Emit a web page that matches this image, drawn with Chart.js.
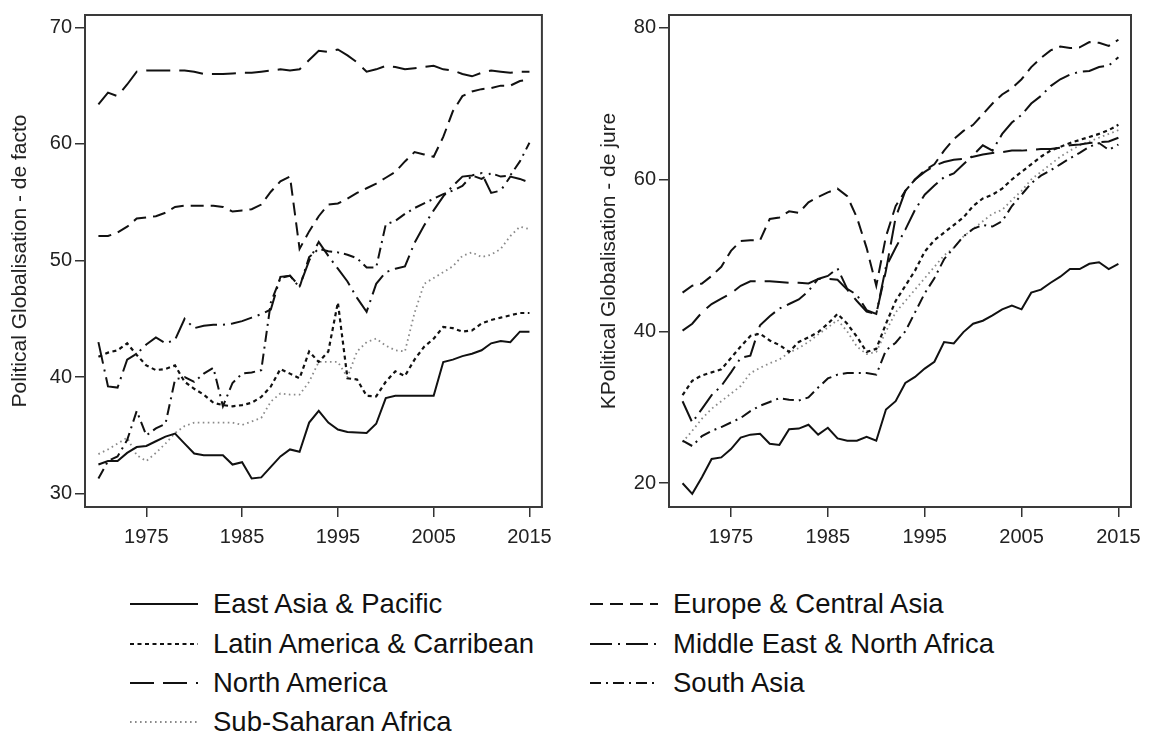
<!DOCTYPE html>
<html>
<head>
<meta charset="utf-8">
<script src="https://cdn.jsdelivr.net/npm/chart.js@4.4.1/dist/chart.umd.min.js"></script>
<style>
  html, body { margin: 0; padding: 0; background: #fff; }
  body { width: 1153px; height: 740px; position: relative; overflow: hidden; font-family: "Liberation Sans", Arial, sans-serif; }
  canvas { position: absolute; top: 0; }
  #left { left: 0; }
  #right { left: 580px; }
  .item { position: absolute; height: 40px; display: flex; align-items: center; font-size: 27.5px; color: #111; white-space: nowrap; }
  .item svg { margin-right: 15px; }
</style>
</head>
<body>
<canvas id="left" width="560" height="560"></canvas>
<canvas id="right" width="573" height="560"></canvas>
<div id="legend"></div>
<script>
// years and tick labels
const years = [1970,1971,1972,1973,1974,1975,1976,1977,1978,1979,1980,1981,1982,1983,1984,1985,1986,1987,1988,1989,1990,1991,1992,1993,1994,1995,1996,1997,1998,1999,2000,2001,2002,2003,2004,2005,2006,2007,2008,2009,2010,2011,2012,2013,2014,2015];
const xTicks = [1975, 1985, 1995, 2005, 2015];
const factoTicks = [30, 40, 50, 60, 70];
const jureTicks = [20, 40, 60, 80];

const regions = ['East Asia & Pacific', 'Europe & Central Asia', 'Latin America & Carribean', 'Middle East & North Africa', 'North America', 'South Asia', 'Sub-Saharan Africa'];

// Political globalisation - de facto
const factoEastAsia = [32.5,32.8,32.8,33.5,34.0,34.1,34.5,34.9,35.15,34.3,33.45,33.3,33.3,33.3,32.5,32.7,31.3,31.4,32.3,33.2,33.8,33.6,36.1,37.1,36.1,35.5,35.3,35.25,35.2,36.0,38.2,38.4,38.4,38.4,38.4,38.4,41.3,41.5,41.8,42.0,42.3,42.9,43.1,43.0,43.9,43.9];
const factoEurope = [52.1,52.1,52.4,52.9,53.6,53.7,53.8,54.1,54.6,54.7,54.7,54.7,54.7,54.6,54.2,54.3,54.4,54.8,55.9,56.8,57.2,51.0,52.5,53.8,54.8,54.9,55.3,55.8,56.2,56.6,57.1,57.6,58.5,59.3,59.1,58.9,60.6,62.8,64.1,64.5,64.7,64.8,65.0,65.0,65.4,65.5];
const factoLatin = [41.75,42.1,42.3,42.9,41.9,41.0,40.6,40.7,41.0,39.6,39.0,38.5,37.8,37.6,37.5,37.6,37.8,38.3,39.2,40.7,40.3,39.9,42.2,41.3,42.2,46.4,39.9,39.8,38.4,38.35,39.6,40.5,40.1,41.5,42.6,43.3,44.3,44.2,43.9,44.0,44.6,44.9,45.1,45.3,45.5,45.5];
const factoMENA = [43.0,39.2,39.1,41.5,42.0,42.8,43.4,42.9,43.2,45.0,44.2,44.4,44.5,44.5,44.6,44.8,45.1,45.4,45.8,48.6,48.7,47.8,50.0,51.6,50.4,49.3,48.2,46.8,45.6,48.0,49.0,49.3,49.5,51.5,53.0,54.3,55.5,56.4,57.2,57.3,57.5,55.8,56.0,57.2,57.0,56.7];
const factoNorthAmerica = [63.4,64.4,64.1,65.1,66.2,66.3,66.3,66.3,66.3,66.3,66.2,66.0,66.0,66.0,66.05,66.1,66.1,66.2,66.3,66.4,66.3,66.4,67.2,68.0,67.9,68.1,67.6,67.0,66.2,66.4,66.7,66.6,66.4,66.5,66.6,66.7,66.4,66.3,66.0,65.8,66.1,66.3,66.2,66.1,66.2,66.2];
const factoSouthAsia = [31.3,32.8,33.2,34.6,37.1,35.0,35.6,36.0,39.8,40.0,39.6,40.3,40.8,37.5,39.5,40.3,40.4,40.6,46.4,48.5,48.7,47.7,50.3,51.0,50.8,50.7,50.5,50.2,49.4,49.4,53.1,53.4,54.0,54.5,54.9,55.3,55.7,56.0,56.4,57.3,57.0,57.5,57.2,57.3,58.5,60.1];
const factoSSA = [33.4,33.8,34.3,34.8,33.3,32.8,33.5,34.3,35.2,35.8,36.1,36.1,36.1,36.1,36.1,35.9,36.2,36.5,37.9,38.6,38.5,38.5,39.6,41.3,41.3,41.3,40.0,42.2,43.0,43.3,42.7,42.3,42.2,45.5,48.0,48.5,49.0,49.5,50.4,50.7,50.3,50.5,51.0,52.1,52.9,52.7];

// KPolitical globalisation - de jure
const jureEastAsia = [20.0,18.6,20.8,23.2,23.4,24.5,26.0,26.4,26.5,25.2,25.05,27.1,27.2,27.7,26.4,27.3,25.9,25.6,25.6,26.1,25.6,29.7,30.8,33.2,34.0,35.1,36.0,38.6,38.4,39.9,41.0,41.4,42.1,42.9,43.4,42.9,45.1,45.5,46.4,47.2,48.2,48.2,48.9,49.1,48.2,48.9];
const jureEurope = [45.1,46.0,46.3,47.3,48.5,50.6,51.9,52.0,52.0,54.8,55.0,55.8,55.6,57.0,57.7,58.3,58.8,57.8,55.0,51.0,46.0,52.5,56.5,58.5,60.0,61.2,62.0,63.8,65.3,66.4,67.2,68.6,70.0,71.2,72.0,73.2,74.8,76.0,77.0,77.5,77.3,77.4,78.1,78.0,77.6,78.4];
const jureLatin = [31.6,33.5,34.2,34.6,35.0,36.5,38.0,39.4,39.7,38.8,38.2,37.3,38.6,39.2,39.9,41.0,42.3,41.0,39.3,37.3,37.7,41.0,44.0,46.0,48.0,50.5,52.0,53.0,54.0,55.0,56.5,57.5,58.0,58.8,60.0,61.0,62.0,63.0,63.8,64.3,64.8,65.2,65.6,66.0,66.5,67.2];
const jureMENA = [30.8,28.0,29.8,31.6,32.8,34.6,36.5,36.8,40.8,42.0,43.0,43.6,44.2,45.3,46.9,47.3,48.3,45.6,44.8,42.8,42.3,48.5,51.0,53.4,56.0,58.0,59.2,60.3,60.8,62.0,63.2,64.5,63.8,66.0,67.5,68.5,70.0,71.0,72.3,73.2,73.8,74.2,74.3,74.8,75.0,76.1];
const jureNorthAmerica = [40.1,41.0,42.5,43.6,44.3,45.0,46.0,46.6,46.6,46.6,46.5,46.4,46.4,46.3,46.9,46.9,46.8,45.5,44.0,42.6,42.3,48.0,55.0,58.5,60.0,61.0,61.8,62.3,62.6,62.7,63.0,63.3,63.5,63.6,63.8,63.8,63.9,64.0,64.0,64.2,64.5,64.6,64.8,64.9,65.0,65.5];
const jureSouthAsia = [25.6,24.9,26.2,26.9,27.4,28.0,28.6,29.5,30.2,30.7,31.2,31.0,30.9,31.3,32.6,33.8,34.3,34.5,34.5,34.5,34.3,37.5,38.5,40.0,42.5,45.0,47.0,49.5,51.0,52.5,53.5,54.0,53.8,54.5,56.5,58.0,59.5,60.5,61.2,62.0,62.8,63.5,64.3,64.8,63.9,64.6];
const jureSSA = [25.4,26.9,28.5,29.8,30.8,31.8,32.8,34.5,35.2,35.8,36.3,37.2,37.8,38.6,39.6,40.5,41.5,40.0,38.0,37.0,37.3,40.0,42.5,44.0,45.5,47.0,48.5,50.0,51.0,52.5,53.5,54.5,55.5,56.0,57.3,58.5,60.0,61.0,62.0,63.0,63.8,64.5,65.0,65.5,66.0,66.5];

// line styles, same order as regions
const styles = [
  { dash: [], color: '#111', width: 2 },
  { dash: [13, 7], color: '#111', width: 2 },
  { dash: [4, 3.5], color: '#111', width: 2.2 },
  { dash: [22, 6, 2, 6], color: '#111', width: 2 },
  { dash: [24, 9], color: '#111', width: 2 },
  { dash: [11, 5, 2, 5], color: '#111', width: 2 },
  { dash: [1.6, 3.4], color: '#8a8a8a', width: 1.8 }
];

function datasets(seriesList) {
  return seriesList.map((vals, i) => ({
    label: regions[i],
    data: vals.map((v, j) => ({ x: years[j], y: v })),
    borderColor: styles[i].color,
    borderWidth: styles[i].width,
    borderDash: styles[i].dash,
    pointRadius: 0,
    fill: false,
    tension: 0
  }));
}

const frame = {
  id: 'frame',
  afterDraw(chart) {
    const a = chart.chartArea, ctx = chart.ctx;
    ctx.save();
    ctx.strokeStyle = '#3a3a3a';
    ctx.lineWidth = 2;
    ctx.strokeRect(a.left, a.top, a.right - a.left, a.bottom - a.top);
    ctx.restore();
  }
};

function makePanel(id, seriesList, yMin, yMax, yTicks, title, axisWidth, titlePad, padRight) {
  return new Chart(document.getElementById(id), {
    type: 'line',
    data: { datasets: datasets(seriesList) },
    options: {
      animation: false,
      responsive: false,
      devicePixelRatio: 1,
      layout: { padding: { top: 10, right: padRight, left: 0, bottom: 0 } },
      plugins: { legend: { display: false }, tooltip: { enabled: false } },
      scales: {
        x: {
          type: 'linear', min: 1968.6, max: 2016.3,
          afterBuildTicks: s => { s.ticks = xTicks.map(v => ({ value: v })); },
          afterFit: s => { s.height = 53; },
          ticks: { font: { size: 20, family: 'Liberation Sans' }, color: '#222', padding: 8, maxRotation: 0, autoSkip: false, callback: v => String(v) },
          grid: { drawOnChartArea: false, tickLength: 10, color: '#333', lineWidth: 1.5 },
          border: { display: true, color: '#333', width: 2 }
        },
        y: {
          type: 'linear', min: yMin, max: yMax,
          afterBuildTicks: s => { s.ticks = yTicks.map(v => ({ value: v })); },
          afterFit: s => { s.width = axisWidth; },
          ticks: { font: { size: 20, family: 'Liberation Sans' }, color: '#222', padding: 3, autoSkip: false, callback: v => String(v) },
          grid: { drawOnChartArea: false, tickLength: 10, color: '#333', lineWidth: 1.5 },
          border: { display: true, color: '#333', width: 2 },
          title: { display: true, text: title, font: { size: 21, family: 'Liberation Sans' }, color: '#222', padding: { top: titlePad, bottom: 0 } }
        }
      }
    },
    plugins: [frame]
  });
}

makePanel('left', [factoEastAsia, factoEurope, factoLatin, factoMENA, factoNorthAmerica, factoSouthAsia, factoSSA],
  28.86, 71.06, factoTicks, 'Political Globalisation - de facto', 85, 8, 11);
makePanel('right', [jureEastAsia, jureEurope, jureLatin, jureMENA, jureNorthAmerica, jureSouthAsia, jureSSA],
  16.87, 81.66, jureTicks, 'KPolitical Globalisation - de jure', 89, 17, 22);

// legend below both panels, two columns filled row by row
const legendPos = [[130, 584], [590, 584], [130, 623.5], [590, 623.5], [130, 663], [590, 663], [130, 702]];
const legend = document.getElementById('legend');
regions.forEach((name, i) => {
  const s = styles[i];
  const el = document.createElement('div');
  el.className = 'item';
  el.style.left = legendPos[i][0] + 'px';
  el.style.top = legendPos[i][1] + 'px';
  el.innerHTML = '<svg width="68" height="10"><line x1="0" y1="5" x2="68" y2="5" stroke="' + s.color +
    '" stroke-width="' + s.width + '" stroke-dasharray="' + (s.dash.length ? s.dash.join(' ') : 'none') + '"/></svg><span>' +
    name.replace(/&/g, '&amp;') + '</span>';
  legend.appendChild(el);
});
</script>
</body>
</html>
